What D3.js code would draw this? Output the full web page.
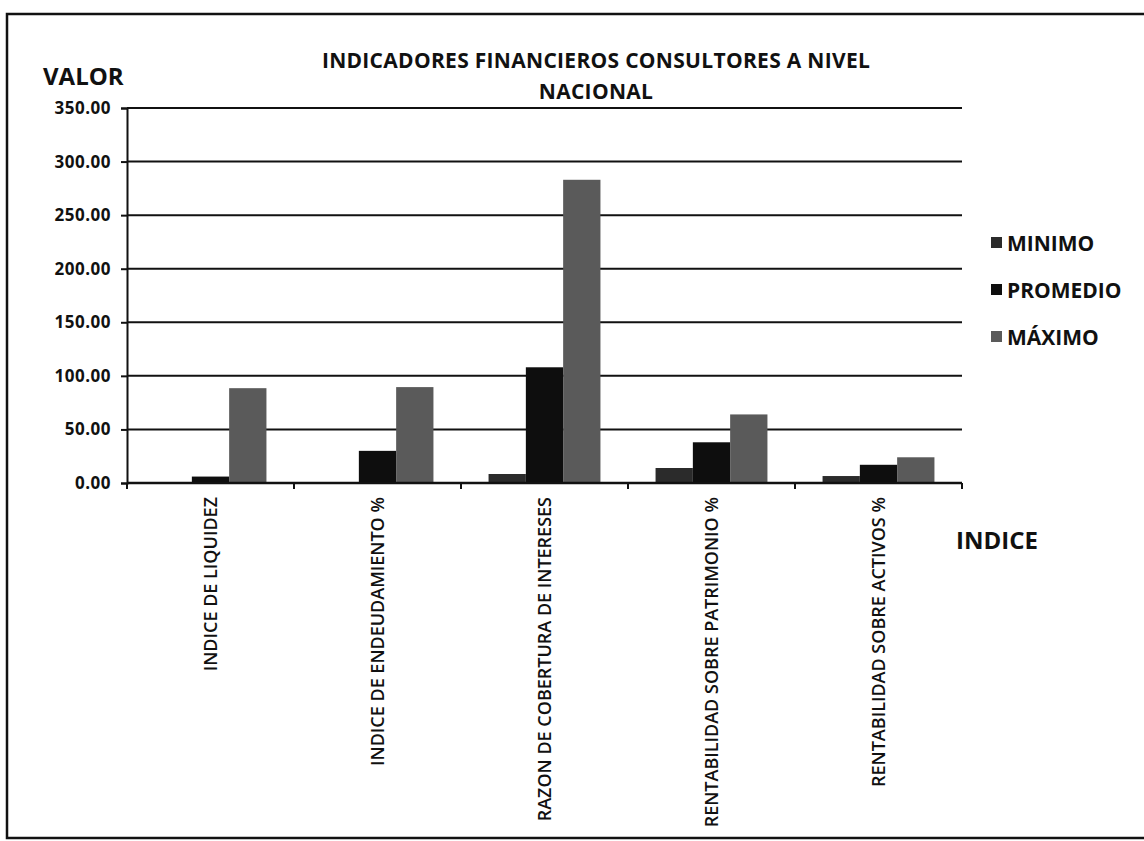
<!DOCTYPE html>
<html>
<head>
<meta charset="utf-8">
<script src="https://cdn.jsdelivr.net/npm/d3@7/dist/d3.min.js"></script>
<style>
html,body{margin:0;padding:0;background:#fff;}
svg{display:block;}
</style>
</head>
<body>
<svg id="chart" width="1144" height="841"></svg>
<script>
const categories = [
  "INDICE DE LIQUIDEZ",
  "INDICE DE ENDEUDAMIENTO %",
  "RAZON DE COBERTURA DE INTERESES",
  "RENTABILIDAD SOBRE PATRIMONIO %",
  "RENTABILIDAD SOBRE ACTIVOS %"
];
const seriesNames = ["MINIMO", "PROMEDIO", "MÁXIMO"];
const minimo   = [0, 0, 8.4, 14, 6.5];
const promedio = [6, 30, 108, 38, 17];
const maximo   = [88.5, 89.5, 283, 64, 24];
const yTicks = [0, 50, 100, 150, 200, 250, 300, 350];
const titleLines = ["INDICADORES FINANCIEROS CONSULTORES A NIVEL", "NACIONAL"];

(function () {
const seriesValues = [minimo, promedio, maximo];
const colors = ["#2b2b2b", "#0e0e0e", "#5a5a5a"];
const font = "'Open Sans', 'Lato', sans-serif";

const svg = d3.select("#chart");

// outer border
svg.append("path")
  .attr("d", "M1150,14 L7,14 L7,838 L1150,838")
  .attr("fill", "none").attr("stroke", "#111").attr("stroke-width", 2.5);

const pL = 127, pR = 962, pT = 108, pB = 483;

const x0 = d3.scaleBand().domain(categories).range([pL, pR])
  .paddingInner(0.33).paddingOuter(0.165);
const x1 = d3.scaleBand().domain(seriesNames).range([0, x0.bandwidth()]);
const y = d3.scaleLinear().domain([0, 350]).range([pB, pT]);

// gridlines
svg.append("g").selectAll("line").data(yTicks).join("line")
  .attr("x1", pL).attr("x2", pR)
  .attr("y1", d => y(d)).attr("y2", d => y(d))
  .attr("stroke", "#111").attr("stroke-width", 2);

// bars
const groups = svg.append("g").selectAll("g").data(categories).join("g")
  .attr("transform", c => `translate(${x0(c)},0)`);
groups.selectAll("rect")
  .data((c, i) => seriesNames.map((s, j) => ({s, v: seriesValues[j][i], j})))
  .join("rect")
  .attr("x", d => x1(d.s))
  .attr("width", x1.bandwidth())
  .attr("y", d => y(d.v))
  .attr("height", d => y(0) - y(d.v))
  .attr("fill", d => colors[d.j]);

// y axis
const yAxis = d3.axisLeft(y).tickValues(yTicks).tickFormat(d3.format(".2f")).tickSize(6).tickPadding(10);
const ya = svg.append("g").attr("transform", `translate(${pL},0)`).call(yAxis);
ya.select(".domain").attr("stroke", "#111").attr("stroke-width", 2);
ya.selectAll(".tick line").attr("stroke", "#111").attr("stroke-width", 2);
ya.selectAll(".tick text").attr("font-family", font).attr("font-weight", "bold")
  .attr("font-size", 17).attr("fill", "#111").attr("letter-spacing", "0.5");

// x axis
const boundaries = categories.map(c => x0(c) - x0.step() * x0.paddingInner() / 2).concat([pR]);
svg.append("line").attr("x1", pL).attr("x2", pR).attr("y1", pB).attr("y2", pB)
  .attr("stroke", "#111").attr("stroke-width", 2.5);
svg.append("g").selectAll("line").data(boundaries).join("line")
  .attr("x1", d => d).attr("x2", d => d).attr("y1", pB).attr("y2", pB + 6)
  .attr("stroke", "#111").attr("stroke-width", 2);

// category labels
svg.append("g").selectAll("text").data(categories).join("text")
  .attr("transform", c => `translate(${x0(c) + x0.bandwidth() / 2 + 6},${pB + 14}) rotate(-90)`)
  .attr("text-anchor", "end")
  .attr("font-family", font).attr("font-size", 18).attr("font-weight", 600)
  .attr("fill", "#111")
  .text(c => c);

// title
svg.append("g").selectAll("text").data(titleLines).join("text")
  .attr("x", 596).attr("y", (d, i) => 68 + i * 31)
  .attr("text-anchor", "middle")
  .attr("font-family", font).attr("font-weight", "bold").attr("font-size", 21)
  .attr("letter-spacing", "0.3")
  .attr("fill", "#111").text(d => d);

// axis titles
svg.append("text").attr("x", 43).attr("y", 85)
  .attr("font-family", font).attr("font-weight", "bold").attr("font-size", 24)
  .attr("fill", "#111").text("VALOR");
svg.append("text").attr("x", 956).attr("y", 549)
  .attr("font-family", font).attr("font-weight", "bold").attr("font-size", 24)
  .attr("fill", "#111").text("INDICE");

// legend
const legend = svg.append("g").selectAll("g").data(seriesNames).join("g")
  .attr("transform", (d, i) => `translate(991,${243 + i * 47})`);
legend.append("rect").attr("x", 0).attr("y", -6).attr("width", 11).attr("height", 11)
  .attr("fill", (d, i) => colors[i]);
legend.append("text").attr("x", 16).attr("y", 7.5)
  .attr("font-family", font).attr("font-size", 21).attr("font-weight", "bold")
  .attr("fill", "#111").text(d => d);
})();
</script>
</body>
</html>
